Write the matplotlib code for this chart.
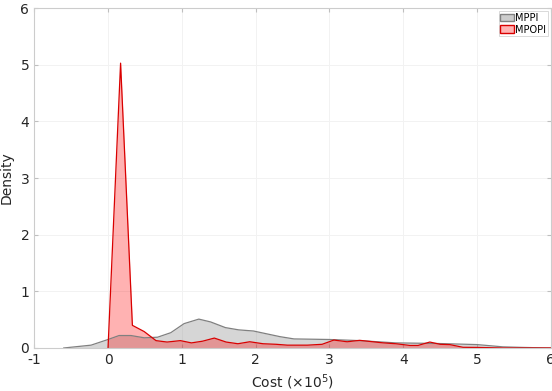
import matplotlib
matplotlib.use("Agg")
import matplotlib.pyplot as plt
from matplotlib.patches import Patch

plt.rcParams['axes.unicode_minus'] = False

# density estimates of the cost (x1e5)
mppi_x = [-0.6, -0.23, 0.0, 0.15, 0.31, 0.49, 0.67, 0.85, 1.03, 1.23, 1.39, 1.59, 1.77,
          1.97, 2.15, 2.33, 2.52, 3.0, 3.41, 3.9, 4.45, 5.0, 5.35, 5.62, 6.0]
mppi_y = [0.0, 0.05, 0.15, 0.22, 0.22, 0.18, 0.19, 0.27, 0.43, 0.51, 0.46, 0.36, 0.32,
          0.30, 0.25, 0.20, 0.16, 0.15, 0.13, 0.09, 0.08, 0.06, 0.02, 0.01, 0.0]

mpopi_x = [0.0, 0.17, 0.33, 0.49, 0.65, 0.8, 0.98, 1.13, 1.28, 1.44, 1.6, 1.76, 1.92,
           2.1, 2.28, 2.43, 2.7, 2.9, 3.06, 3.24, 3.41, 3.73, 3.9, 4.09, 4.2, 4.36,
           4.5, 4.63, 4.81, 5.0, 5.35, 6.0]
mpopi_y = [0.0, 5.03, 0.40, 0.29, 0.13, 0.105, 0.13, 0.09, 0.12, 0.175, 0.105, 0.075, 0.11,
           0.075, 0.065, 0.05, 0.05, 0.065, 0.14, 0.11, 0.135, 0.09, 0.075, 0.045, 0.045, 0.105,
           0.065, 0.06, 0.012, 0.01, 0.0, 0.0]

fig = plt.figure(figsize=(5.52, 3.91), dpi=100)
ax = fig.add_axes([0.062, 0.11, 0.936, 0.869])

ax.fill_between(mppi_x, mppi_y, color=(0.55, 0.55, 0.55), alpha=0.35, linewidth=0)
ax.plot(mppi_x, mppi_y, color=(0.5, 0.5, 0.5), linewidth=0.9)
ax.fill_between(mpopi_x, mpopi_y, color="red", alpha=0.3, linewidth=0)
ax.plot(mpopi_x, mpopi_y, color=(0.85, 0.0, 0.0), linewidth=0.9)

ax.set_xlim(-1, 6)
ax.set_ylim(0, 6)
ax.set_xticks(range(-1, 7))
ax.set_yticks(range(0, 7))
ax.grid(True, color=(0.95, 0.95, 0.95), linewidth=0.7)
ax.set_axisbelow(True)
ax.tick_params(direction="in", top=True, right=True, length=3, color=(0.75, 0.75, 0.75),
               labelsize=10, labelcolor=(0.15, 0.15, 0.15))
for s in ax.spines.values():
    s.set_color((0.8, 0.8, 0.8))

ax.set_xlabel(r"Cost ($\times10^5$)", fontsize=10, color=(0.15, 0.15, 0.15))
ax.set_ylabel("Density", fontsize=10, color=(0.15, 0.15, 0.15), labelpad=5)

handles = [Patch(facecolor=(0.8, 0.8, 0.8), edgecolor=(0.5, 0.5, 0.5)),
           Patch(facecolor=(1.0, 0.7, 0.7), edgecolor=(0.85, 0.0, 0.0))]
leg = ax.legend(handles, ["MPPI", "MPOPI"], loc="upper right", fontsize=7,
                fancybox=False, framealpha=1, edgecolor=(0.85, 0.85, 0.85),
                borderpad=0.2, handlelength=1.4, handleheight=0.8, handletextpad=0.1,
                labelspacing=0.15, borderaxespad=0.3)
leg.get_frame().set_linewidth(0.7)

fig.savefig("out.png", dpi=100)
